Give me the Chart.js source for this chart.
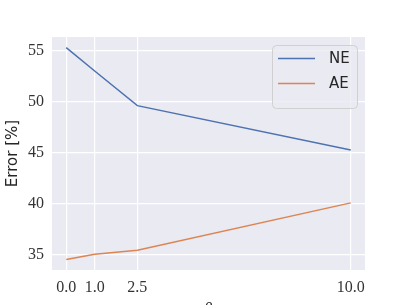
<!DOCTYPE html>
<html>
<head>
<meta charset="utf-8">
<script src="https://cdn.jsdelivr.net/npm/chart.js@4/dist/chart.umd.min.js"></script>
<style>
html,body{margin:0;padding:0;background:#ffffff;}
canvas{display:block;}
</style>
</head>
<body>
<canvas id="c" width="407" height="305"></canvas>
<script>
const xValues = [0, 1, 2.5, 10];
const neValues = [55.3, 53.0, 49.6, 45.25];
const aeValues = [34.5, 35.0, 35.4, 40.05];
const xTicks = [0, 1, 2.5, 10];
const yTicks = [35, 40, 45, 50, 55];
const seriesLabels = ['NE', 'AE'];
const yTitle = 'Error [%]';
const xTitle = 'β';

const bgPlugin = {
  id: 'bg',
  beforeDraw(chart) {
    const a = chart.chartArea, ctx = chart.ctx;
    ctx.save();
    ctx.fillStyle = '#EAEAF2';
    ctx.fillRect(a.left, a.top, a.right - a.left, a.bottom - a.top);
    ctx.restore();
  }
};

const legendPlugin = {
  id: 'boxLegend',
  afterDraw(chart) {
    const ctx = chart.ctx;
    const x0 = 272, y0 = 45, w = 85, h = 63, r = 4;
    ctx.save();
    ctx.beginPath();
    ctx.roundRect(x0 + 0.5, y0 + 0.5, w, h, r);
    ctx.fillStyle = 'rgba(234,234,242,0.8)';
    ctx.fill();
    ctx.strokeStyle = '#d0d0d0';
    ctx.lineWidth = 1;
    ctx.stroke();
    chart.data.datasets.forEach((ds, i) => {
      const y = 58.5 + i * 25;
      ctx.beginPath();
      ctx.moveTo(278, y);
      ctx.lineTo(315, y);
      ctx.strokeStyle = ds.borderColor;
      ctx.lineWidth = 1.5;
      ctx.stroke();
      ctx.fillStyle = '#262626';
      ctx.font = '15px "DejaVu Sans"';
      ctx.textBaseline = 'middle';
      ctx.textAlign = 'left';
      ctx.fillText(ds.label, 329, y + 1);
    });
    // x axis title, mostly cut off by the canvas edge as in the reference
    ctx.font = 'italic 16px "Liberation Serif"';
    ctx.textAlign = 'center';
    ctx.textBaseline = 'top';
    ctx.fillStyle = '#262626';
    ctx.fillText(xTitle, 208, 302);
    ctx.restore();
  }
};

new Chart(document.getElementById('c'), {
  type: 'line',
  data: {
    datasets: [
      { label: seriesLabels[0], data: xValues.map((x, i) => ({x, y: neValues[i]})), borderColor: '#4C72B0', borderWidth: 1.5, pointRadius: 0, tension: 0, fill: false },
      { label: seriesLabels[1], data: xValues.map((x, i) => ({x, y: aeValues[i]})), borderColor: '#DD8452', borderWidth: 1.5, pointRadius: 0, tension: 0, fill: false }
    ]
  },
  options: {
    responsive: false,
    animation: false,
    layout: { padding: { top: 37, right: 42, bottom: 0, left: 0 } },
    plugins: { legend: { display: false }, tooltip: { enabled: false } },
    scales: {
      x: {
        type: 'linear', min: -0.5, max: 10.5,
        afterBuildTicks(s) { s.ticks = xTicks.map(v => ({value: v})); },
        afterFit(s) { s.height = 35; },
        grid: { color: '#ffffff', lineWidth: 1.2, drawTicks: false },
        border: { display: false },
        ticks: { padding: 8, color: '#333333', font: { family: '"Liberation Serif"', size: 16 }, maxRotation: 0,
          callback: v => Number(v).toFixed(1) }
      },
      y: {
        type: 'linear', min: 33.46, max: 56.34,
        afterBuildTicks(s) { s.ticks = yTicks.map(v => ({value: v})); },
        afterFit(s) { s.width = 52; },
        grid: { color: '#ffffff', lineWidth: 1.2, drawTicks: false },
        border: { display: false },
        title: { display: true, text: yTitle, color: '#262626', font: { family: '"DejaVu Sans"', size: 15 }, padding: { top: 4, bottom: 0 } },
        ticks: { padding: 8, color: '#333333', font: { family: '"Liberation Serif"', size: 16 },
          callback: v => String(v) }
      }
    }
  },
  plugins: [bgPlugin, legendPlugin]
});
</script>
</body>
</html>
